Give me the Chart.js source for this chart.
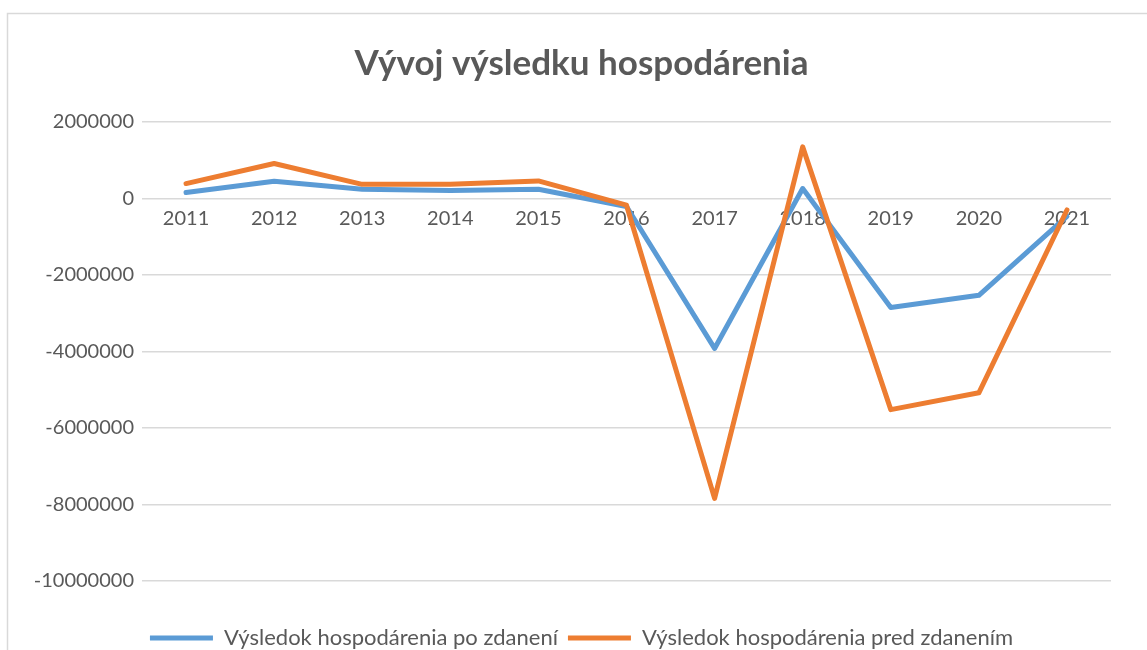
<!DOCTYPE html>
<html>
<head>
<meta charset="utf-8">
<script src="https://cdn.jsdelivr.net/npm/chart.js@4/dist/chart.umd.min.js"></script>
<style>
  html, body { margin: 0; padding: 0; background: #fff; overflow: hidden; }
  #wrap { position: relative; width: 1147px; height: 670px; }
</style>
</head>
<body>
<div id="wrap"><canvas id="c" width="1147" height="670"></canvas></div>
<script>
const years = ['2011','2012','2013','2014','2015','2016','2017','2018','2019','2020','2021'];
const poZdaneni = [155000, 450000, 240000, 210000, 240000, -210000, -3920000, 260000, -2850000, -2530000, -470000];
const predZdanenim = [390000, 915000, 370000, 370000, 460000, -175000, -7840000, 1350000, -5520000, -5080000, -300000];
const seriesNames = ['Výsledok hospodárenia po zdanení', 'Výsledok hospodárenia pred zdanením'];
const chartTitle = 'Vývoj výsledku hospodárenia';
const yMin = -10000000, yMax = 2000000, yStep = 2000000;

const textColor = '#595959';
const gridColor = '#d9d9d9';
Chart.defaults.font.family = 'Lato';
Chart.defaults.color = textColor;

const framePlugin = {
  id: 'frame',
  beforeDraw(chart) {
    const ctx = chart.ctx;
    ctx.save();
    ctx.fillStyle = '#ffffff';
    ctx.fillRect(0, 0, chart.width, chart.height);
    ctx.strokeStyle = gridColor;
    ctx.lineWidth = 1.5;
    ctx.strokeRect(7.5, 13.5, 1160, 720);
    ctx.restore();
  }
};

new Chart(document.getElementById('c'), {
  type: 'line',
  data: {
    labels: years,
    datasets: [
      { label: seriesNames[0], data: poZdaneni, borderColor: '#5B9BD5', backgroundColor: '#5B9BD5',
        borderWidth: 5, pointRadius: 0, tension: 0, borderCapStyle: 'round', borderJoinStyle: 'round', order: 1 },
      { label: seriesNames[1], data: predZdanenim, borderColor: '#ED7D31', backgroundColor: '#ED7D31',
        borderWidth: 5, pointRadius: 0, tension: 0, borderCapStyle: 'round', borderJoinStyle: 'round', order: 0 }
    ]
  },
  options: {
    responsive: false,
    animation: false,
    events: [],
    layout: { padding: { left: 16, right: 0, top: 0, bottom: 11 } },
    plugins: {
      title: {
        display: true, text: chartTitle, color: textColor,
        font: { family: 'Lato', size: 35, weight: 'bold' },
        padding: { top: 43, bottom: 37 }
      },
      legend: {
        position: 'bottom',
        labels: {
          usePointStyle: true, pointStyle: 'line', pointStyleWidth: 63, boxHeight: 5,
          padding: 10, color: textColor, font: { size: 22 },
          sort: (a, b) => a.datasetIndex - b.datasetIndex
        }
      },
      tooltip: { enabled: false }
    },
    scales: {
      x: {
        type: 'category',
        position: { y: 0 },
        offset: true,
        grid: { display: false, drawTicks: false, offset: true },
        border: { display: false },
        ticks: { color: textColor, font: { size: 20 }, padding: 8, maxRotation: 0, autoSkip: false }
      },
      xgap: {
        type: 'category', position: 'bottom', display: true,
        grid: { display: false, drawTicks: false }, border: { display: false },
        ticks: { display: false },
        afterFit: (s) => { s.height = 36; }
      },
      y: {
        type: 'linear', position: 'left', min: yMin, max: yMax,
        grid: { color: gridColor, lineWidth: 1.5, drawTicks: false },
        border: { display: false },
        ticks: { stepSize: yStep, color: textColor, font: { size: 20 }, padding: 8,
                 callback: (v) => String(v) },
        afterFit: (s) => { s.width = 126; }
      },
      yr: {
        type: 'linear', position: 'right', display: true,
        grid: { display: false, drawTicks: false }, border: { display: false },
        ticks: { display: false },
        afterFit: (s) => { s.width = 36; }
      }
    }
  },
  plugins: [framePlugin]
});
</script>
</body>
</html>
